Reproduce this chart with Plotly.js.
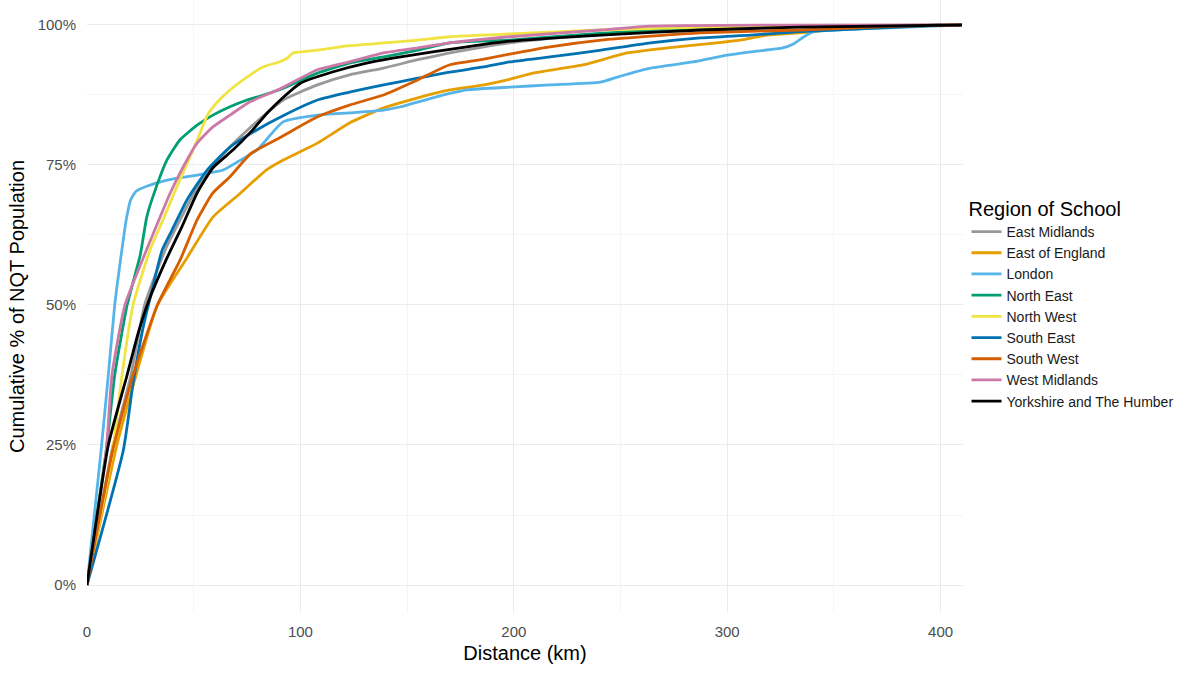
<!DOCTYPE html>
<html>
<head>
<meta charset="utf-8">
<script src="https://cdn.plot.ly/plotly-3.0.1.min.js"></script>
<style>
  html, body { margin: 0; padding: 0; background: #ffffff; }
  #chart { width: 1200px; height: 675px; }
</style>
</head>
<body>
<div id="chart"></div>
<script>
// ---- Data (distance in km, cumulative share of NQT population) ----
const regionNames = ['East Midlands', 'East of England', 'London', 'North East', 'North West',
                     'South East', 'South West', 'West Midlands', 'Yorkshire and The Humber'];

const eastMidlandsKm  = [0, 11.7, 20.6, 27, 36.6, 44, 51.6, 59, 67, 76, 92, 108, 123, 139, 155, 170, 186, 198, 230, 270, 330, 410];
const eastMidlandsPct = [0, 0.24, 0.375, 0.5, 0.598, 0.655, 0.71, 0.748, 0.782, 0.815, 0.866, 0.893, 0.911, 0.923, 0.938, 0.95, 0.961, 0.968, 0.98, 0.99, 0.997, 1];

const eastOfEnglandKm  = [0, 14, 23, 33, 47, 59, 72, 84, 92, 108, 123, 139, 155, 170, 186, 198, 209, 233, 253, 272, 295, 306, 319, 334, 362, 405];
const eastOfEnglandPct = [0, 0.25, 0.375, 0.5, 0.585, 0.657, 0.70, 0.741, 0.759, 0.789, 0.825, 0.852, 0.87, 0.884, 0.893, 0.903, 0.914, 0.929, 0.95, 0.959, 0.968, 0.973, 0.982, 0.986, 0.996, 1];

const londonKm  = [0, 6.6, 10, 13, 16.4, 18.5, 20.5, 23, 28, 37.5, 51.6, 63.8, 70.3, 79.7, 91.9, 108, 123, 139, 147, 162, 178, 198, 217, 240.6, 248.5, 264, 284, 300, 311, 326, 331, 336, 340.5, 362.5, 409];
const londonPct = [0, 0.24, 0.375, 0.5, 0.6, 0.655, 0.688, 0.703, 0.712, 0.723, 0.732, 0.741, 0.755, 0.777, 0.827, 0.839, 0.843, 0.848, 0.854, 0.87, 0.884, 0.889, 0.893, 0.898, 0.907, 0.923, 0.934, 0.946, 0.952, 0.959, 0.966, 0.979, 0.988, 0.993, 1];

const northEastKm  = [0, 9, 13, 18.8, 25, 28, 32.4, 37.5, 43.6, 51.6, 59, 67, 75, 82, 92, 108, 123, 139, 155, 170, 198, 240, 280, 330, 410];
const northEastPct = [0, 0.24, 0.375, 0.5, 0.59, 0.657, 0.71, 0.759, 0.795, 0.821, 0.839, 0.854, 0.866, 0.874, 0.887, 0.914, 0.932, 0.943, 0.955, 0.968, 0.973, 0.985, 0.993, 0.998, 1];

const northWestKm  = [0, 12, 16.4, 21.6, 29.5, 35.6, 42, 48.3, 53, 56.3, 61, 67, 75, 82.5, 90, 94, 96.5, 108, 123, 139, 155, 170, 198, 241, 300, 410];
const northWestPct = [0, 0.24, 0.375, 0.5, 0.598, 0.652, 0.71, 0.765, 0.807, 0.838, 0.862, 0.884, 0.907, 0.925, 0.934, 0.941, 0.95, 0.955, 0.963, 0.968, 0.973, 0.979, 0.984, 0.991, 0.997, 1];

const southEastKm  = [0, 17, 21.6, 26.3, 30.5, 35.2, 40, 46.9, 56.3, 67, 79.7, 91.9, 108, 123, 139, 155, 170, 186, 198, 217, 241, 264, 287.5, 311, 334, 400];
const southEastPct = [0, 0.24, 0.36, 0.46, 0.527, 0.598, 0.635, 0.688, 0.741, 0.782, 0.813, 0.838, 0.866, 0.88, 0.893, 0.905, 0.916, 0.925, 0.934, 0.943, 0.955, 0.968, 0.977, 0.982, 0.988, 1];

const southWestKm  = [0, 12, 21.6, 33, 43.6, 51.6, 59, 67, 77, 91, 108, 123, 139, 155, 170, 186, 198, 217, 241, 264, 287, 334, 380, 410];
const southWestPct = [0, 0.24, 0.375, 0.5, 0.58, 0.652, 0.70, 0.729, 0.771, 0.80, 0.836, 0.857, 0.875, 0.902, 0.929, 0.939, 0.948, 0.961, 0.973, 0.98, 0.986, 0.991, 0.998, 1];

const westMidlandsKm  = [0, 9, 11.7, 17.8, 27, 32.4, 39, 45, 51.6, 59, 67, 76, 90, 108, 123, 139, 155, 170, 198, 241, 264, 410];
const westMidlandsPct = [0, 0.24, 0.375, 0.5, 0.59, 0.64, 0.70, 0.746, 0.789, 0.818, 0.839, 0.862, 0.885, 0.92, 0.934, 0.95, 0.959, 0.968, 0.979, 0.991, 0.998, 1];

const yorkshireKm  = [0, 10, 18.8, 24, 28.6, 37, 44.5, 51.6, 59, 68.5, 77, 85, 92, 100, 115, 131, 147, 162, 178, 198, 241, 288, 334, 410];
const yorkshirePct = [0, 0.25, 0.375, 0.45, 0.504, 0.58, 0.64, 0.70, 0.745, 0.777, 0.81, 0.845, 0.871, 0.896, 0.916, 0.932, 0.943, 0.952, 0.961, 0.971, 0.982, 0.991, 0.996, 1];

const xTicks = [0, 100, 200, 300, 400];
const yTicks = [0, 0.25, 0.5, 0.75, 1];
const yTickLabels = ['0%', '25%', '50%', '75%', '100%'];

// ---- Styling ----
const regionColors = ['#999999', '#E69F00', '#56B4E9', '#009E73', '#F0E442',
                      '#0072B2', '#D55E00', '#CC79A7', '#000000'];
const seriesX = [eastMidlandsKm, eastOfEnglandKm, londonKm, northEastKm, northWestKm,
                 southEastKm, southWestKm, westMidlandsKm, yorkshireKm];
const seriesY = [eastMidlandsPct, eastOfEnglandPct, londonPct, northEastPct, northWestPct,
                 southEastPct, southWestPct, westMidlandsPct, yorkshirePct];

const FONT = '"Liberation Sans", Arial, sans-serif';

const traces = regionNames.map((name, i) => ({
  type: 'scatter',
  mode: 'lines',
  name: name,
  x: seriesX[i],
  y: seriesY[i],
  line: { color: regionColors[i], width: 2.8, shape: 'spline', smoothing: 0.5 },
  hoverinfo: 'x+y+name'
}));

const layout = {
  width: 1200,
  height: 675,
  paper_bgcolor: '#ffffff',
  plot_bgcolor: '#ffffff',
  font: { family: FONT, color: '#000000' },
  margin: { l: 87, r: 237, t: 0, b: 62, pad: 0 },
  showlegend: true,
  legend: {
    title: { text: 'Region of School', font: { size: 20, color: '#000000', family: FONT } },
    font: { size: 14, color: '#1a1a1a', family: FONT },
    x: 1.004, xanchor: 'left',
    y: 0.505, yanchor: 'middle',
    bgcolor: 'rgba(0,0,0,0)',
    borderwidth: 0,
    itemwidth: 30,
    traceorder: 'normal'
  },
  xaxis: {
    range: [0, 410.5],
    tickvals: xTicks,
    ticktext: xTicks.map(String),
    ticks: '',
    ticklabelstandoff: 8,
    tickfont: { size: 15, color: '#4D4D4D', family: FONT },
    showgrid: true, gridcolor: '#EBEBEB', gridwidth: 1,
    minor: { tick0: 0, dtick: 50, showgrid: true, gridcolor: '#F5F5F5', gridwidth: 1 },
    zeroline: false, showline: false,
    automargin: false,
    title: { text: 'Distance (km)', font: { size: 20, color: '#000000', family: FONT }, standoff: 6 }
  },
  yaxis: {
    range: [-0.05, 1.0446],
    tickvals: yTicks,
    ticktext: yTickLabels,
    ticks: '',
    ticklabelstandoff: 10,
    tickfont: { size: 15, color: '#4D4D4D', family: FONT },
    showgrid: true, gridcolor: '#EBEBEB', gridwidth: 1,
    minor: { tick0: 0, dtick: 0.125, showgrid: true, gridcolor: '#F5F5F5', gridwidth: 1 },
    zeroline: false, showline: false,
    automargin: false,
    title: { text: 'Cumulative % of NQT Population', font: { size: 20, color: '#000000', family: FONT }, standoff: 7 }
  }
};

Plotly.newPlot('chart', traces, layout, { displayModeBar: false, staticPlot: true });
</script>
</body>
</html>
